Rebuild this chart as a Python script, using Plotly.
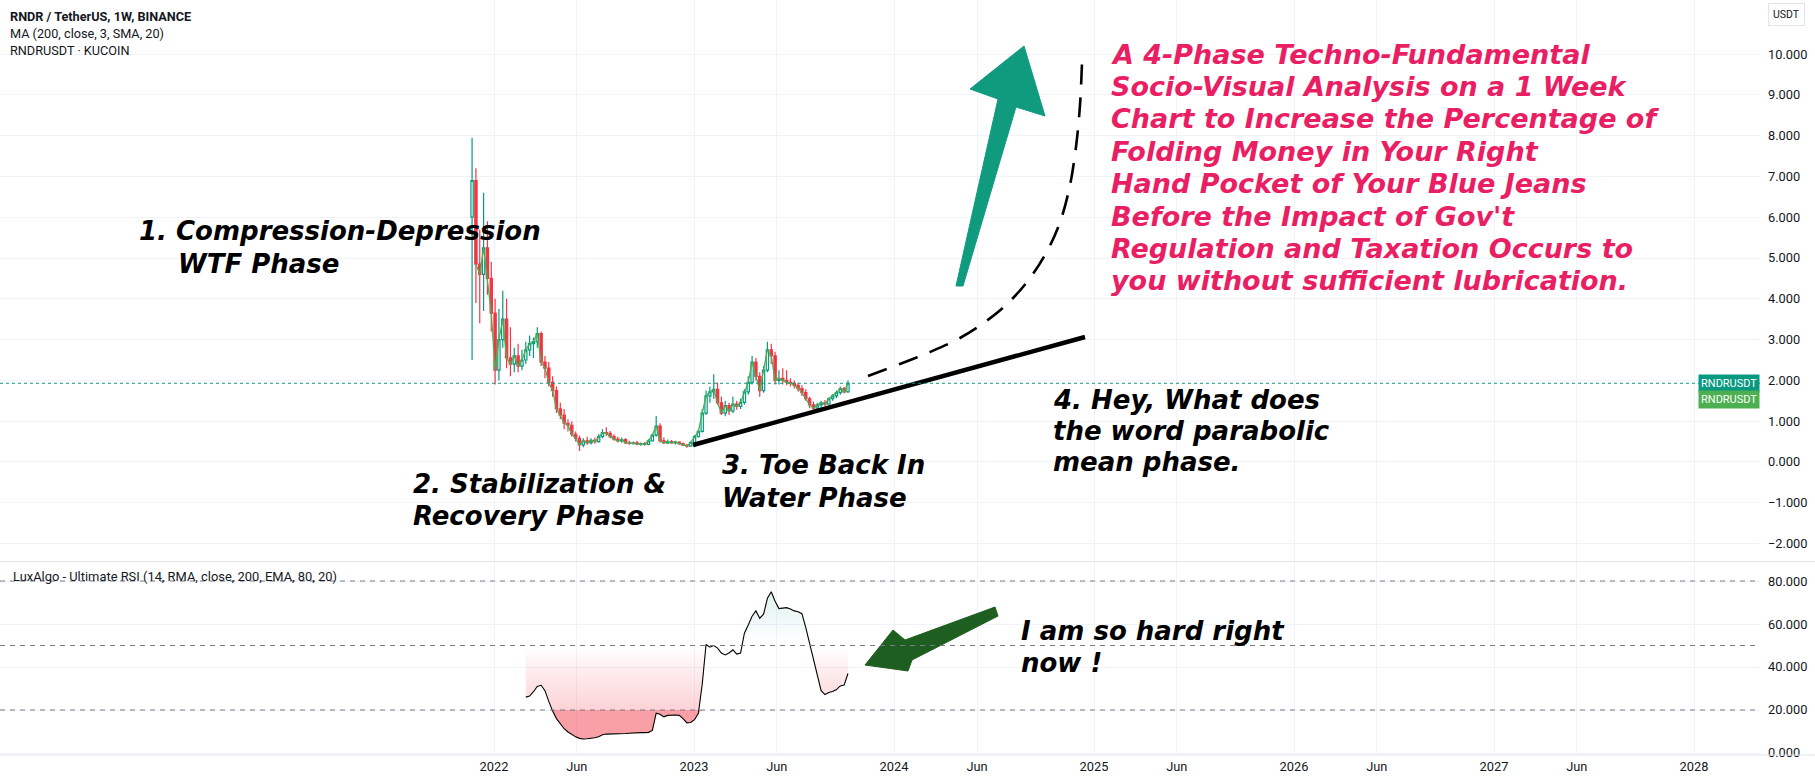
import pandas as pd
import plotly.graph_objects as go

# ---------------- data ----------------
first_week = "2021-11-22"   # weekly candles, 1W

opens = [6.0, 6.9, 4.85, 4.6, 5.25, 4.5, 3.65, 2.25, 3.0, 3.5,
         2.55, 2.4, 2.6, 2.35, 2.5, 2.75, 2.9, 2.95, 3.15, 2.45,
         2.3, 1.95, 1.75, 1.3, 1.15, 0.95, 0.9, 0.68, 0.58, 0.42,
         0.52, 0.47, 0.53, 0.5, 0.62, 0.72, 0.7, 0.62, 0.56, 0.52,
         0.55, 0.47, 0.46, 0.47, 0.44, 0.45, 0.43, 0.52, 0.66, 0.88,
         0.52, 0.47, 0.5, 0.47, 0.49, 0.45, 0.41, 0.39, 0.48, 0.62,
         0.75, 1.2, 1.62, 1.72, 1.78, 1.45, 1.2, 1.38, 1.25, 1.42,
         1.36, 1.46, 1.72, 1.95, 2.45, 2.1, 1.75, 2.25, 2.75, 2.6,
         2.0, 2.05, 2.0, 1.95, 1.93, 1.88, 1.8, 1.7, 1.55, 1.4,
         1.32, 1.4, 1.45, 1.42, 1.55, 1.62, 1.7, 1.8, 1.72]
highs = [7.95, 7.2, 5.7, 6.6, 5.9, 4.9, 4.0, 3.75, 4.2, 4.0,
         3.3, 2.8, 2.9, 2.75, 2.95, 3.1, 3.05, 3.3, 3.2, 2.6,
         2.45, 2.1, 1.85, 1.45, 1.3, 1.05, 1.0, 0.75, 0.65, 0.58,
         0.62, 0.58, 0.6, 0.68, 0.8, 0.85, 0.76, 0.68, 0.62, 0.6,
         0.58, 0.52, 0.5, 0.52, 0.48, 0.49, 0.56, 0.7, 1.13, 0.95,
         0.6, 0.55, 0.54, 0.52, 0.51, 0.48, 0.44, 0.5, 0.66, 0.8,
         1.3, 1.75, 1.85, 2.15, 1.95, 1.6, 1.5, 1.45, 1.6, 1.5,
         1.55, 1.78, 2.1, 2.6, 2.55, 2.2, 2.35, 2.95, 2.9, 2.7,
         2.25, 2.3, 2.25, 2.05, 2.0, 1.95, 1.88, 1.78, 1.6, 1.48,
         1.45, 1.5, 1.52, 1.58, 1.66, 1.75, 1.85, 1.84, 2.0]
lows = [2.5, 3.9, 3.4, 3.7, 4.1, 3.2, 1.9, 2.0, 2.8, 2.3,
        2.1, 2.2, 2.2, 2.25, 2.4, 2.6, 2.55, 2.8, 2.35, 2.05,
        1.85, 1.6, 1.2, 1.05, 0.8, 0.75, 0.62, 0.5, 0.27, 0.36,
        0.42, 0.43, 0.45, 0.47, 0.58, 0.64, 0.58, 0.52, 0.48, 0.47,
        0.44, 0.42, 0.42, 0.41, 0.4, 0.4, 0.41, 0.5, 0.62, 0.48,
        0.44, 0.44, 0.45, 0.43, 0.42, 0.39, 0.35, 0.38, 0.46, 0.6,
        0.72, 1.15, 1.45, 1.55, 1.4, 1.15, 1.12, 1.15, 1.2, 1.28,
        1.3, 1.4, 1.65, 1.9, 2.0, 1.6, 1.7, 2.2, 2.4, 1.9,
        1.9, 1.9, 1.88, 1.85, 1.8, 1.72, 1.62, 1.5, 1.32, 1.25,
        1.28, 1.33, 1.36, 1.4, 1.5, 1.56, 1.65, 1.68, 1.7]
closes = [6.9, 4.85, 4.6, 5.25, 4.5, 3.65, 2.25, 3.0, 3.5, 2.55,
          2.4, 2.6, 2.35, 2.5, 2.75, 2.9, 2.95, 3.15, 2.45, 2.3,
          1.95, 1.75, 1.3, 1.15, 0.95, 0.9, 0.68, 0.58, 0.42, 0.52,
          0.47, 0.53, 0.5, 0.62, 0.72, 0.7, 0.62, 0.56, 0.52, 0.55,
          0.47, 0.46, 0.47, 0.44, 0.45, 0.43, 0.52, 0.66, 0.88, 0.52,
          0.47, 0.5, 0.47, 0.49, 0.45, 0.41, 0.39, 0.48, 0.62, 0.75,
          1.2, 1.62, 1.72, 1.78, 1.45, 1.2, 1.38, 1.25, 1.42, 1.36,
          1.46, 1.72, 1.95, 2.45, 2.1, 1.75, 2.25, 2.75, 2.6, 2.0,
          2.05, 2.0, 1.95, 1.93, 1.88, 1.8, 1.7, 1.55, 1.4, 1.32,
          1.4, 1.45, 1.42, 1.55, 1.62, 1.7, 1.8, 1.72, 1.93]

kucoin_first_index = 1          # compare line (RNDRUSDT · KUCOIN) starts here

rsi_first_index = 14
rsi_values = [26, 26.5, 28.5, 31, 31.5, 29, 24, 19.5, 16, 13.5,
              11.3, 9.8, 8.5, 7.5, 6.8, 6.5, 6.6, 6.8, 7.1, 7.6,
              8.5, 8.8, 8.8, 8.8, 8.9, 9.0, 9.1, 9.2, 9.4, 9.4,
              9.5, 9.5, 9.6, 10.5, 18.5, 18.0, 16.8, 17.5, 17.7, 17.7,
              17.5, 16, 14, 14.2, 15.5, 18.5, 32, 50.5, 49.2, 50,
              48.8, 46.5, 45.6, 46.5, 48, 46, 46.5, 55.7, 59.5, 63.6,
              66.1, 62.7, 64.6, 72, 75, 70.6, 67.2, 67.3, 67.6, 67,
              66.1, 65.7, 64.8, 58.3, 50.7, 44, 36, 29, 27.2, 28.1,
              28.6, 29.5, 31.2, 31.6, 37]
rsi_levels = [80, 50, 20]
rsi_os_level = 20
rsi_mid_level = 50

x_tick_dates = ["2022-01-01", "2022-06-01", "2023-01-01", "2023-06-01",
                "2024-01-01", "2024-06-01", "2025-01-01", "2025-06-01",
                "2026-01-01", "2026-06-01", "2027-01-01", "2027-06-01",
                "2028-01-01"]
x_tick_labels = ["2022", "Jun", "2023", "Jun", "2024", "Jun", "2025", "Jun",
                 "2026", "Jun", "2027", "Jun", "2028"]
price_ticks = [-2, -1, 0, 1, 2, 3, 4, 5, 6, 7, 8, 9, 10]
rsi_ticks = [0, 20, 40, 60, 80]

# drawings (decimal year, value)
trend_x = [2022.995, 2024.955]
trend_y = [0.417, 3.064]
curve_x = [2023.87, 2024.03, 2024.18, 2024.33, 2024.455, 2024.56, 2024.665,
           2024.755, 2024.825, 2024.875, 2024.908, 2024.93, 2024.94]
curve_y = [2.108, 2.402, 2.696, 3.039, 3.431, 3.848, 4.412,
           5.074, 5.809, 6.667, 7.647, 8.75, 9.804]
up_arrow_x = [2024.31, 2024.345, 2024.61, 2024.755, 2024.65, 2024.38, 2024.52, 2024.31]
up_arrow_y = [4.314, 4.314, 8.701, 8.480, 10.196, 9.142, 8.897, 4.314]
rsi_arrow_x = [2023.855, 2023.995, 2024.055, 2024.505, 2024.52, 2024.09, 2024.07, 2023.855]
rsi_arrow_y = [40.93, 57.21, 52.56, 67.91, 63.72, 43.26, 38.14, 40.93]

black_notes = [
    ("1. Compression-Depression", 2020.215, 5.66, "y"),
    ("WTF Phase", 2020.41, 4.85, "y"),
    ("2. Stabilization &", 2021.585, -0.54, "y"),
    ("Recovery Phase", 2021.585, -1.32, "y"),
    ("3. Toe Back In", 2023.13, -0.07, "y"),
    ("Water Phase", 2023.13, -0.88, "y"),
    ("4. Hey, What does", 2024.785, 1.52, "y"),
    ("the word parabolic", 2024.785, 0.76, "y"),
    ("mean phase.", 2024.785, 0.0, "y"),
    ("I am so hard right", 2024.625, 56.7, "y2"),
    ("now !", 2024.625, 41.9, "y2"),
]
pink_lines = ["A 4-Phase Techno-Fundamental",
              "Socio-Visual Analysis on a 1 Week",
              "Chart to Increase the Percentage of",
              "Folding Money in Your Right",
              "Hand Pocket of Your Blue Jeans",
              "Before the Impact of Gov't",
              "Regulation and Taxation Occurs to",
              "you without sufficient lubrication."]
pink_x = 2025.075
pink_y = [10.0, 9.206, 8.412, 7.618, 6.824, 6.029, 5.235, 4.441]

legend_lines = ["<b>RNDR / TetherUS, 1W, BINANCE</b>",
                "MA (200, close, 3, SMA, 20)",
                "RNDRUSDT · KUCOIN"]
rsi_legend = "LuxAlgo - Ultimate RSI (14, RMA, close, 200, EMA, 80, 20)"

# ---------------- helpers ----------------
def dec_year(ts):
    ts = pd.Timestamp(ts)
    start = pd.Timestamp(year=ts.year, month=1, day=1)
    end = pd.Timestamp(year=ts.year + 1, month=1, day=1)
    return ts.year + (ts - start) / (end - start)

weeks = pd.date_range(first_week, periods=len(closes), freq="7D")
xs = [dec_year(d) for d in weeks]
tickvals = [dec_year(d) for d in x_tick_dates]
rsi_x = xs[rsi_first_index:rsi_first_index + len(rsi_values)]

UP = "#089981"
DOWN = "#f23645"
GRID = "#f0f3fa"
TXT = "#131722"
AXFONT = dict(family="Roboto", size=12.8, color=TXT)

fig = go.Figure()

# ---- main pane ----
fig.add_trace(go.Candlestick(
    x=xs, open=opens, high=highs, low=lows, close=closes,
    increasing=dict(line=dict(color=UP, width=1.2), fillcolor="white"),
    decreasing=dict(line=dict(color=DOWN, width=1.2), fillcolor=DOWN),
    whiskerwidth=0, xaxis="x", yaxis="y", hoverinfo="skip"))

fig.add_trace(go.Scatter(
    x=xs[kucoin_first_index:], y=closes[kucoin_first_index:], mode="lines",
    line=dict(color="#4caf50", width=1.3), xaxis="x", yaxis="y", hoverinfo="skip"))

fig.add_trace(go.Scatter(
    x=trend_x, y=trend_y, mode="lines", line=dict(color="black", width=4.5),
    xaxis="x", yaxis="y", hoverinfo="skip"))
fig.add_trace(go.Scatter(
    x=curve_x, y=curve_y, mode="lines",
    line=dict(color="black", width=2.6, dash="20px,13px", shape="spline"),
    xaxis="x", yaxis="y", hoverinfo="skip"))
fig.add_trace(go.Scatter(
    x=up_arrow_x, y=up_arrow_y, mode="lines", fill="toself",
    fillcolor="#109b7e", line=dict(color="#109b7e", width=1),
    xaxis="x", yaxis="y", hoverinfo="skip"))

# ---- RSI pane ----
mid_line = [rsi_mid_level] * len(rsi_values)
os_line = [rsi_os_level] * len(rsi_values)
fig.add_trace(go.Scatter(x=rsi_x, y=mid_line, mode="lines", line=dict(width=0),
                         xaxis="x2", yaxis="y2", hoverinfo="skip"))
fig.add_trace(go.Scatter(
    x=rsi_x, y=rsi_values, mode="lines", line=dict(width=0), fill="tonexty",
    fillgradient=dict(type="vertical", start=20, stop=80,
                      colorscale=[[0.0, "rgba(242,54,69,0.22)"],
                                  [0.42, "rgba(242,54,69,0.04)"],
                                  [0.5, "rgba(255,255,255,0)"],
                                  [0.58, "rgba(8,153,129,0.02)"],
                                  [1.0, "rgba(8,153,129,0.16)"]]),
    xaxis="x2", yaxis="y2", hoverinfo="skip"))
fig.add_trace(go.Scatter(x=rsi_x, y=os_line, mode="lines", line=dict(width=0),
                         xaxis="x2", yaxis="y2", hoverinfo="skip"))
fig.add_trace(go.Scatter(
    x=rsi_x, y=[min(v, rsi_os_level) for v in rsi_values], mode="lines",
    line=dict(width=0), fill="tonexty", fillcolor="rgba(242,54,69,0.33)",
    xaxis="x2", yaxis="y2", hoverinfo="skip"))
fig.add_trace(go.Scatter(
    x=rsi_x, y=rsi_values, mode="lines", line=dict(color="#000000", width=1.1),
    xaxis="x2", yaxis="y2", hoverinfo="skip"))
fig.add_trace(go.Scatter(
    x=rsi_arrow_x, y=rsi_arrow_y, mode="lines", fill="toself",
    fillcolor="#1e5e20", line=dict(color="#1e5e20", width=1),
    xaxis="x2", yaxis="y2", hoverinfo="skip"))

# ---- shapes ----
shapes = []
for lv in rsi_levels:
    shapes.append(dict(type="line", xref="x2 domain", yref="y2", x0=0, x1=1,
                       y0=lv, y1=lv, line=dict(color="#787b86", width=1, dash="5px,5px")))
shapes.append(dict(type="line", xref="x domain", yref="y", x0=0, x1=1,
                   y0=closes[-1], y1=closes[-1],
                   line=dict(color=UP, width=1, dash="dot")))
shapes.append(dict(type="line", xref="paper", yref="paper", x0=0, x1=1.032,
                   y0=0.2563, y1=0.2563, line=dict(color="#e0e3eb", width=1)))
shapes.append(dict(type="line", xref="paper", yref="paper", x0=0, x1=1.032,
                   y0=0.0, y1=0.0, line=dict(color="#e0e3eb", width=1)))

# ---- annotations ----
ann = []
for text, x, y, yref in black_notes:
    ann.append(dict(text=text, x=x, y=y, xref="x", yref=yref, xanchor="left",
                    yanchor="middle", showarrow=False,
                    font=dict(family="DejaVu Sans", size=26, color="#000000",
                              weight="bold", style="italic")))
for text, y in zip(pink_lines, pink_y):
    ann.append(dict(text=text, x=pink_x, y=y, xref="x", yref="y", xanchor="left",
                    yanchor="middle", showarrow=False,
                    font=dict(family="DejaVu Sans", size=27, color="#e91e63",
                              weight="bold", style="italic")))
for i, t in enumerate(legend_lines):
    ann.append(dict(text=t, x=0.0045, y=1 - (16 + 17 * i) / 755, xref="paper",
                    yref="paper", xanchor="left", yanchor="middle", showarrow=False,
                    font=dict(family="Roboto", size=12.7, color=TXT)))
ann.append(dict(text=rsi_legend, x=0.0062, y=1 - 576 / 755, xref="paper", yref="paper",
                xanchor="left", yanchor="middle", showarrow=False,
                font=dict(family="Roboto", size=12.9, color=TXT)))
ann.append(dict(text="RNDRUSDT", x=1, y=closes[-1], xref="paper", yref="y",
                xanchor="right", yanchor="middle", showarrow=False, bgcolor=UP,
                borderpad=2, font=dict(family="Roboto", size=11, color="white")))
ann.append(dict(text="RNDRUSDT", x=1, y=closes[-1], yshift=-16, xref="paper", yref="y",
                xanchor="right", yanchor="middle", showarrow=False, bgcolor="#4caf50",
                borderpad=2, font=dict(family="Roboto", size=11, color="white")))
ann.append(dict(text="USDT", x=1.0153, y=1 - 14 / 755, xref="paper", yref="paper",
                xanchor="center", yanchor="middle", showarrow=False,
                bordercolor="#e0e3eb", borderwidth=1, borderpad=4, bgcolor="white",
                font=dict(family="Roboto", size=10.5, color=TXT)))

fig.update_layout(
    width=1815, height=784,
    margin=dict(l=0, r=55, t=0, b=29),
    paper_bgcolor="white", plot_bgcolor="white", showlegend=False,
    boxgap=0.15,
    shapes=shapes, annotations=ann,
    xaxis=dict(domain=[0, 1], anchor="y", range=[2019.53, 2028.33],
               tickvals=tickvals, showticklabels=False, showgrid=True,
               gridcolor=GRID, zeroline=False, showline=False,
               rangeslider=dict(visible=False)),
    xaxis2=dict(domain=[0, 1], anchor="y2", matches="x", range=[2019.53, 2028.33],
                tickvals=tickvals, ticktext=x_tick_labels, showgrid=True,
                gridcolor=GRID, zeroline=False, showline=False, ticks="",
                ticklabelstandoff=2, tickfont=AXFONT),
    yaxis=dict(domain=[0.2570, 1], anchor="x", side="right",
               range=[-2.426, 11.324], tickvals=price_ticks, tickformat=".3f",
               showgrid=True, gridcolor=GRID, zeroline=False, showline=False,
               ticks="", ticklabelstandoff=7, tickfont=AXFONT),
    yaxis2=dict(domain=[0, 0.2556], anchor="x2", side="right",
                range=[-0.93, 88.84], tickvals=rsi_ticks, tickformat=".3f",
                showgrid=True, gridcolor=GRID, zeroline=False, showline=False,
                ticks="", ticklabelstandoff=7, tickfont=AXFONT),
)

fig.write_html(
    "out.html",
    config={"displayModeBar": False},
    post_script="document.body.style.margin='0px';document.body.style.overflow='hidden';")
